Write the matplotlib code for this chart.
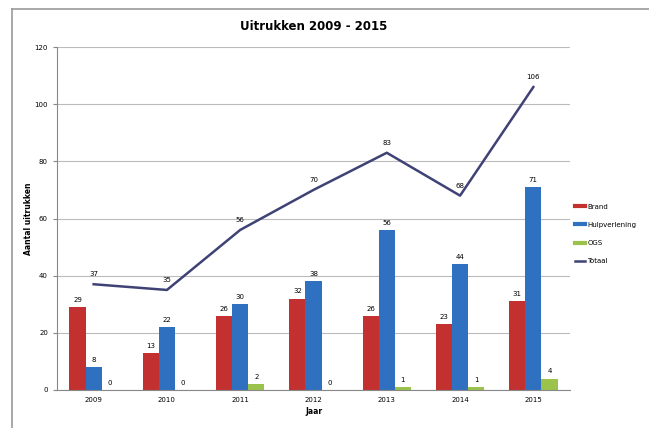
import numpy as np
import matplotlib.pyplot as plt
from matplotlib.lines import Line2D

# data
jaren = ["2009", "2010", "2011", "2012", "2013", "2014", "2015"]
brand = [29, 13, 26, 32, 26, 23, 31]
hulpverlening = [8, 22, 30, 38, 56, 44, 71]
ogs = [0, 0, 2, 0, 1, 1, 4]
totaal = [37, 35, 56, 70, 83, 68, 106]

kleur_brand = "#C2312F"
kleur_hulp = "#3070C0"
kleur_ogs = "#9BC24A"
kleur_totaal = "#3F4275"

fig = plt.figure(figsize=(6.49, 4.28), dpi=100)
ax = fig.add_axes([57 / 649, 38 / 428, 513 / 649, 343 / 428])

# kader: alleen boven- en linkerrand zichtbaar
fig.add_artist(Line2D([12 / 649, 1], [419 / 428, 419 / 428], transform=fig.transFigure,
                      color="#9a9a9a", linewidth=1.2))
fig.add_artist(Line2D([12 / 649, 12 / 649], [0, 419 / 428], transform=fig.transFigure,
                      color="#9a9a9a", linewidth=1.2))

x = np.arange(len(jaren))
w = 0.22
b1 = ax.bar(x - w, brand, w, color=kleur_brand)
b2 = ax.bar(x, hulpverlening, w, color=kleur_hulp)
b3 = ax.bar(x + w, ogs, w, color=kleur_ogs)
ax.plot(x, totaal, color=kleur_totaal, linewidth=1.8)

for bars in (b1, b2, b3):
    for r in bars:
        ax.annotate(str(int(r.get_height())),
                    (r.get_x() + r.get_width() / 2, r.get_height()),
                    xytext=(0, 3), textcoords="offset points",
                    ha="center", va="bottom", fontsize=5)
for xi, v in zip(x, totaal):
    ax.annotate(str(v), (xi, v), xytext=(0, 5), textcoords="offset points",
                ha="center", va="bottom", fontsize=5)

ax.set_xlim(-0.5, len(jaren) - 0.5)
ax.set_ylim(0, 120)
ax.set_yticks(range(0, 121, 20))
ax.set_xticks(x)
ax.set_xticklabels(jaren)
ax.tick_params(labelsize=5, length=3, color="#888888")
ax.tick_params(axis="x", length=0, pad=5)
ax.grid(axis="y", color="#bbbbbb", linewidth=0.8)
ax.set_axisbelow(True)
for s in ("top", "right"):
    ax.spines[s].set_visible(False)
ax.spines["left"].set_color("#888888")
ax.spines["bottom"].set_color("#888888")

ax.set_xlabel("Jaar", fontsize=5.5, fontweight="bold", labelpad=3)
ax.set_ylabel("Aantal uitrukken", fontsize=5.5, fontweight="bold", labelpad=1)
ax.set_title("Uitrukken 2009 - 2015", fontsize=8.5, fontweight="bold", pad=12)

handles = [Line2D([], [], color=kleur_brand, linewidth=3),
           Line2D([], [], color=kleur_hulp, linewidth=3),
           Line2D([], [], color=kleur_ogs, linewidth=3),
           Line2D([], [], color=kleur_totaal, linewidth=1.8)]
ax.legend(handles, ["Brand", "Hulpverlening", "OGS", "Totaal"],
          loc="center left", bbox_to_anchor=(1.0, 0.455), frameon=False,
          fontsize=5, handlelength=1.4, handletextpad=0.4, labelspacing=1.75,
          borderaxespad=0.3)

fig.savefig("out.png", dpi=100)
